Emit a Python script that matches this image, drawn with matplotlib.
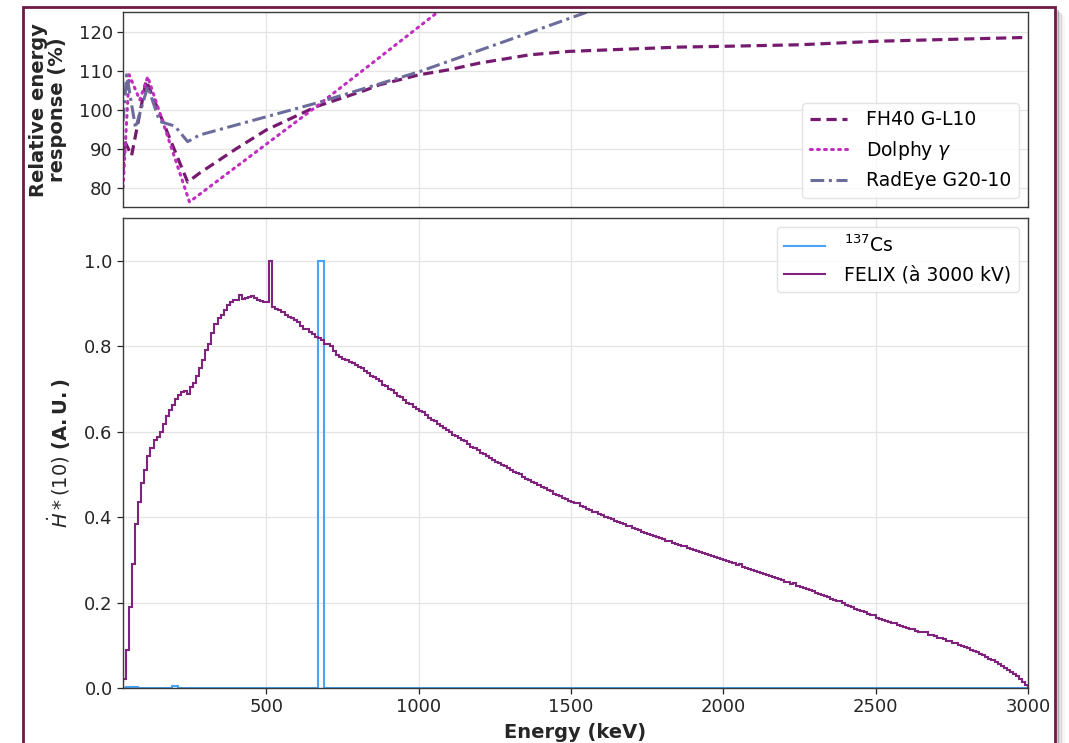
import numpy as np
import matplotlib
matplotlib.use("Agg")
import matplotlib.pyplot as plt
from matplotlib.patches import Rectangle
from matplotlib.lines import Line2D

# ---------------- data ----------------
# detector relative energy response (%)
fh40_energy = [30, 35, 58, 106, 242, 281, 400, 500, 664, 828, 871, 1003, 1101, 1200, 1363,
               1494, 1593, 1691, 1855, 2000, 2250, 2502, 3000]
fh40_resp = [84, 92, 88.2, 107.5, 81.4, 83.7, 89.9, 94.8, 100.8, 105.1, 106.4, 109.0, 110.3, 112.0, 114.1,
             115.0, 115.3, 115.6, 116.1, 116.3, 116.7, 117.6, 118.6]

dolphy_energy = [30, 50, 85, 111, 248, 664, 1250]
dolphy_resp = [80, 109, 102.5, 108.5, 76.3, 100.8, 136.5]

radeye_energy = [30, 42, 71, 111, 150, 200, 242, 281, 500, 664, 1003, 1363, 1560, 3000]
radeye_resp = [97, 109, 95.3, 106, 97, 95.8, 91.8, 93.5, 98.2, 101.7, 109.8, 119.8, 125.3, 166]

# spectra: 10 keV bins from 30 keV to 3000 keV
bin_low = 30
bin_high = 3000
bin_width = 10

felix_values = [
    0.020, 0.090, 0.190, 0.290, 0.385, 0.435, 0.480,                               # 30-100
    0.510, 0.542, 0.562, 0.580, 0.588, 0.600, 0.618, 0.637, 0.650, 0.662,           # 100-200
    0.676, 0.686, 0.693, 0.695, 0.688, 0.704, 0.714, 0.730, 0.748, 0.768,           # 200-300
    0.790, 0.806, 0.830, 0.852, 0.866, 0.872, 0.885, 0.896, 0.904, 0.908,           # 300-400
    0.909, 0.919, 0.911, 0.912, 0.915, 0.917, 0.912, 0.909, 0.906, 0.903,           # 400-500
    0.904, 1.000, 0.891, 0.888, 0.884, 0.879, 0.873, 0.868, 0.865, 0.862,           # 500-600
    0.856, 0.848, 0.840, 0.841, 0.833, 0.828, 0.822, 0.818, 0.814, 0.806,           # 600-700
    0.806, 0.801, 0.789, 0.780, 0.775, 0.771, 0.767, 0.762, 0.760, 0.756,           # 700-800
    0.752, 0.748, 0.741, 0.738, 0.731, 0.727, 0.724, 0.718, 0.710, 0.707,           # 800-900
    0.700, 0.697, 0.690, 0.683, 0.680, 0.673, 0.668, 0.664, 0.657, 0.653,           # 900-1000
    0.648, 0.645, 0.639, 0.633, 0.628, 0.624, 0.617, 0.614, 0.608, 0.604,           # 1000-1100
    0.599, 0.593, 0.590, 0.584, 0.580, 0.577, 0.571, 0.565, 0.561, 0.556,           # 1100-1200
    0.551, 0.548, 0.542, 0.539, 0.534, 0.530, 0.527, 0.522, 0.519, 0.514,           # 1200-1300
    0.511, 0.506, 0.503, 0.501, 0.495, 0.490, 0.487, 0.482, 0.479, 0.475,           # 1300-1400
    0.471, 0.467, 0.463, 0.460, 0.455, 0.452, 0.449, 0.444, 0.442, 0.437,           # 1400-1500
    0.436, 0.432, 0.433, 0.426, 0.423, 0.420, 0.417, 0.413, 0.411, 0.407,           # 1500-1600
    0.404, 0.401, 0.398, 0.395, 0.392, 0.389, 0.386, 0.383, 0.380, 0.379,           # 1600-1700
    0.374, 0.371, 0.369, 0.365, 0.363, 0.360, 0.358, 0.355, 0.353, 0.350,           # 1700-1800
    0.348, 0.345, 0.343, 0.340, 0.338, 0.335, 0.333, 0.333, 0.328, 0.325,           # 1800-1900
    0.323, 0.320, 0.318, 0.316, 0.313, 0.311, 0.308, 0.306, 0.304, 0.301,           # 1900-2000
    0.299, 0.297, 0.294, 0.292, 0.289, 0.290, 0.284, 0.282, 0.279, 0.277,           # 2000-2100
    0.274, 0.272, 0.269, 0.267, 0.264, 0.262, 0.259, 0.257, 0.254, 0.252,           # 2100-2200
    0.249, 0.247, 0.244, 0.245, 0.239, 0.237, 0.234, 0.231, 0.229, 0.226,           # 2200-2300
    0.223, 0.220, 0.218, 0.215, 0.212, 0.209, 0.206, 0.203, 0.204, 0.198,           # 2300-2400
    0.195, 0.192, 0.189, 0.186, 0.183, 0.180, 0.177, 0.174, 0.171, 0.172,           # 2400-2500
    0.165, 0.162, 0.160, 0.157, 0.155, 0.153, 0.153, 0.148, 0.146, 0.143,           # 2500-2600
    0.141, 0.139, 0.137, 0.134, 0.132, 0.130, 0.131, 0.125, 0.123, 0.121,           # 2600-2700
    0.118, 0.116, 0.114, 0.111, 0.109, 0.106, 0.106, 0.101, 0.099, 0.096,           # 2700-2800
    0.093, 0.090, 0.087, 0.084, 0.080, 0.077, 0.073, 0.069, 0.065, 0.061,           # 2800-2900
    0.057, 0.052, 0.048, 0.043, 0.038, 0.033, 0.027, 0.021, 0.015, 0.008,           # 2900-3000
]

cs_values = [0.0] * 297
cs_low_bins = {1: 0.003, 2: 0.003, 3: 0.003, 4: 0.002, 16: 0.004, 17: 0.004}
cs_peak_bins = [64, 65]   # 670-690 keV
cs_peak_value = 1.0
for k, v in cs_low_bins.items():
    cs_values[k] = v
for k in cs_peak_bins:
    cs_values[k] = cs_peak_value

# ---------------- style ----------------
c_fh40 = "#761a70"
c_dolphy = "#c02dc0"
c_radeye = "#6c6c9c"
c_felix = "#80237f"
c_cs = "#4aa3f5"
txt = "#262626"

plt.rcParams["font.family"] = ["DejaVu Sans"]

fig = plt.figure(figsize=(10.69, 7.43), dpi=100)
fig.patch.set_facecolor("white")

ax1 = fig.add_axes([0.1151, 0.7214, 0.8466, 0.2618])
ax2 = fig.add_axes([0.1151, 0.0740, 0.8466, 0.6326], sharex=ax1)

for ax in (ax1, ax2):
    ax.grid(True, color="#e4e4e4", lw=0.9)
    ax.set_axisbelow(True)
    for s in ax.spines.values():
        s.set_color("#3a3a3a")
        s.set_linewidth(1.0)
    ax.tick_params(labelsize=13, colors=txt, length=4, width=0.9)

# top panel
ax1.plot(fh40_energy, fh40_resp, ls=(0, (3.2, 1.8)), lw=2.3, color=c_fh40, label="FH40 G-L10")
ax1.plot(dolphy_energy, dolphy_resp, ls=(0, (0.6, 1.7)), lw=2.2, color=c_dolphy, label="Dolphy $\\gamma$",
         dash_capstyle="round")
ax1.plot(radeye_energy, radeye_resp, ls=(0, (4.5, 1.5, 1.0, 1.5)), lw=2.2, color=c_radeye, label="RadEye G20-10")
ax1.set_ylim(75, 125)
ax1.set_yticks([80, 90, 100, 110, 120])
ax1.tick_params(axis="x", labelbottom=False, length=0)
ax1.set_ylabel("Relative energy\nresponse (%)", fontsize=14, fontweight="bold", color=txt, labelpad=8,
               linespacing=1.0)
leg1 = ax1.legend(loc="lower right", fontsize=13.5, frameon=True, handlelength=2.0, handletextpad=1.0)
leg1.get_frame().set_edgecolor("#dddddd")

# bottom panel
edges = np.arange(bin_low, bin_high + 1, bin_width)
ax2.stairs(cs_values, edges, color=c_cs, lw=1.5, label="$^{137}$Cs")
ax2.stairs(felix_values, edges, color=c_felix, lw=1.5, label="FELIX (à 3000 kV)")
ax2.set_xlim(bin_low, bin_high)
ax2.set_ylim(0, 1.1)
ax2.set_yticks([0.0, 0.2, 0.4, 0.6, 0.8, 1.0])
ax2.set_yticklabels(["0.0", "0.2", "0.4", "0.6", "0.8", "1.0"])
ax2.set_xticks([500, 1000, 1500, 2000, 2500, 3000])
ax2.set_xlabel("Energy (keV)", fontsize=14, fontweight="bold", color=txt, labelpad=5)
ax2.set_ylabel(r"$\dot{H}*(10)$ $\mathbf{(A.U.)}$", fontsize=14, color=txt, labelpad=8)
leg2 = ax2.legend(loc="upper right", fontsize=13.5, frameon=True, handlelength=2.2, handletextpad=1.0)
leg2.get_frame().set_edgecolor("#dddddd")

# decorative frame with shadow
for i, a in enumerate([0.35, 0.25, 0.17, 0.10, 0.05]):
    x = (1057.5 + i * 1.6) / 1069
    fig.add_artist(Line2D([x, x], [-0.1, 0.985 - i * 0.002], transform=fig.transFigure,
                          color="#505050", alpha=a, lw=1.3))
fig.add_artist(Rectangle((22.5 / 1069, -0.1), (1054.5 - 22.5) / 1069, 1.1 - 6.5 / 743,
                         transform=fig.transFigure, fill=False, edgecolor="#6e1a48", lw=2.0))

fig.savefig("out.png", dpi=100, facecolor="white")
